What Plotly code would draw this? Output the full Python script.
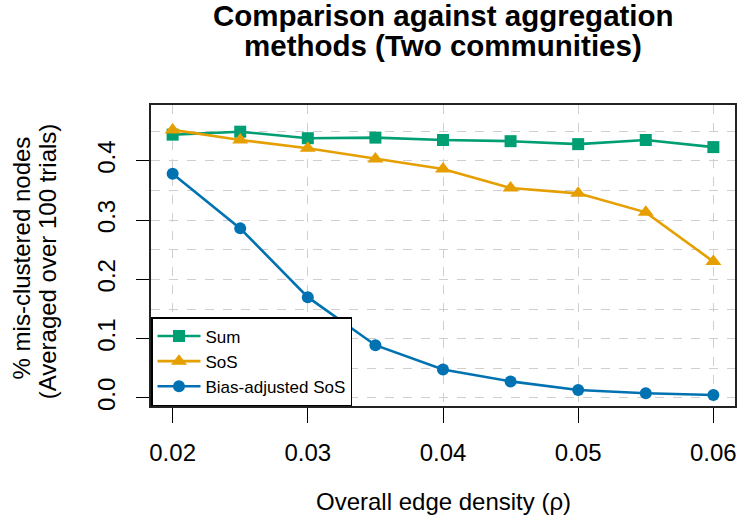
import plotly.graph_objects as go

density = [0.020, 0.025, 0.030, 0.035, 0.040, 0.045, 0.050, 0.055, 0.060]
sum_vals = [0.444, 0.449, 0.438, 0.439, 0.435, 0.433, 0.428, 0.435, 0.423]
sos_vals = [0.452, 0.435, 0.421, 0.403, 0.386, 0.354, 0.345, 0.313, 0.230]
bias_vals = [0.378, 0.286, 0.170, 0.089, 0.048, 0.028, 0.0135, 0.008, 0.005]

x_ticks = [0.02, 0.03, 0.04, 0.05, 0.06]
x_tick_text = ["0.02", "0.03", "0.04", "0.05", "0.06"]
y_ticks = [0.0, 0.1, 0.2, 0.3, 0.4]
y_tick_text = ["0.0", "0.1", "0.2", "0.3", "0.4"]

series_names = ["Sum", "SoS", "Bias-adjusted SoS"]
colors = ["#009E73", "#E69F00", "#0072B2"]
symbols = ["square", "triangle-up", "circle"]
sizes = [12, 14, 12]

FONT = "Liberation Sans, Arial, Helvetica, sans-serif"
W, H = 742, 530
L, R, T, B = 151, 5, 105, 124
PW, PH = W - L - R, H - T - B


def px_x(x):
    return (x - L) / PW


def px_y(y):
    return (H - B - y) / PH


fig = go.Figure()
for name, vals, c, s, sz in zip(series_names, [sum_vals, sos_vals, bias_vals], colors, symbols, sizes):
    fig.add_trace(go.Scatter(
        x=density, y=vals, name=name, mode="lines+markers",
        line=dict(color=c, width=2.6),
        marker=dict(symbol=s, size=sz, color=c),
    ))

grid_col = "#cfcfcf"
fig.update_layout(
    width=W, height=H,
    margin=dict(l=L, r=R, t=T, b=B),
    paper_bgcolor="white", plot_bgcolor="white",
    font=dict(family=FONT, color="black"),
    showlegend=True,
    legend=dict(
        x=0, y=0, xanchor="left", yanchor="bottom",
        bgcolor="white", bordercolor="black", borderwidth=1.5,
        font=dict(size=17, family=FONT), tracegroupgap=0, itemwidth=43,
    ),
    xaxis=dict(
        range=[0.0184, 0.0616], tickvals=x_ticks, ticktext=x_tick_text,
        ticks="outside", ticklen=15, tickwidth=1.3, tickcolor="black",
        showline=True, mirror=True, linecolor="#222", linewidth=1.5,
        showgrid=True, gridcolor=grid_col, griddash="dash", gridwidth=1,
        zeroline=False, tickfont=dict(size=24), ticklabelstandoff=9,
    ),
    yaxis=dict(
        range=[-0.0135, 0.494], tickvals=y_ticks, ticktext=y_tick_text,
        ticks="outside", ticklen=13, tickwidth=1.3, tickcolor="black",
        showline=True, mirror=True, linecolor="#222", linewidth=1.5,
        showgrid=True, gridcolor=grid_col, griddash="dash", gridwidth=1,
        minor=dict(dtick=0.05, tick0=0, showgrid=True, gridcolor=grid_col, griddash="dash", ticks=""),
        zeroline=False, tickfont=dict(size=24), tickangle=-90, ticklabelstandoff=12,
    ),
    annotations=[
        dict(text="Comparison against aggregation", x=px_x(444), y=px_y(16), xref="paper", yref="paper",
             xanchor="center", yanchor="middle", showarrow=False,
             font=dict(size=29.5, family=FONT, weight="bold")),
        dict(text="methods (Two communities)", x=px_x(444), y=px_y(46), xref="paper", yref="paper",
             xanchor="center", yanchor="middle", showarrow=False,
             font=dict(size=29.5, family=FONT, weight="bold")),
        dict(text="Overall edge density (\u03c1)", x=px_x(444), y=px_y(501), xref="paper", yref="paper",
             xanchor="center", yanchor="middle", showarrow=False,
             font=dict(size=24, family=FONT)),
        dict(text="% mis-clustered nodes", x=px_x(21), y=px_y(258), xref="paper", yref="paper",
             xanchor="center", yanchor="middle", showarrow=False, textangle=-90,
             font=dict(size=24, family=FONT)),
        dict(text="(Averaged over 100 trials)", x=px_x(47), y=px_y(261), xref="paper", yref="paper",
             xanchor="center", yanchor="middle", showarrow=False, textangle=-90,
             font=dict(size=24, family=FONT)),
    ],
)

fig.write_html(
    "out.html",
    config={"displayModeBar": False},
    post_script="document.body.style.margin='0';document.body.style.padding='0';",
)
